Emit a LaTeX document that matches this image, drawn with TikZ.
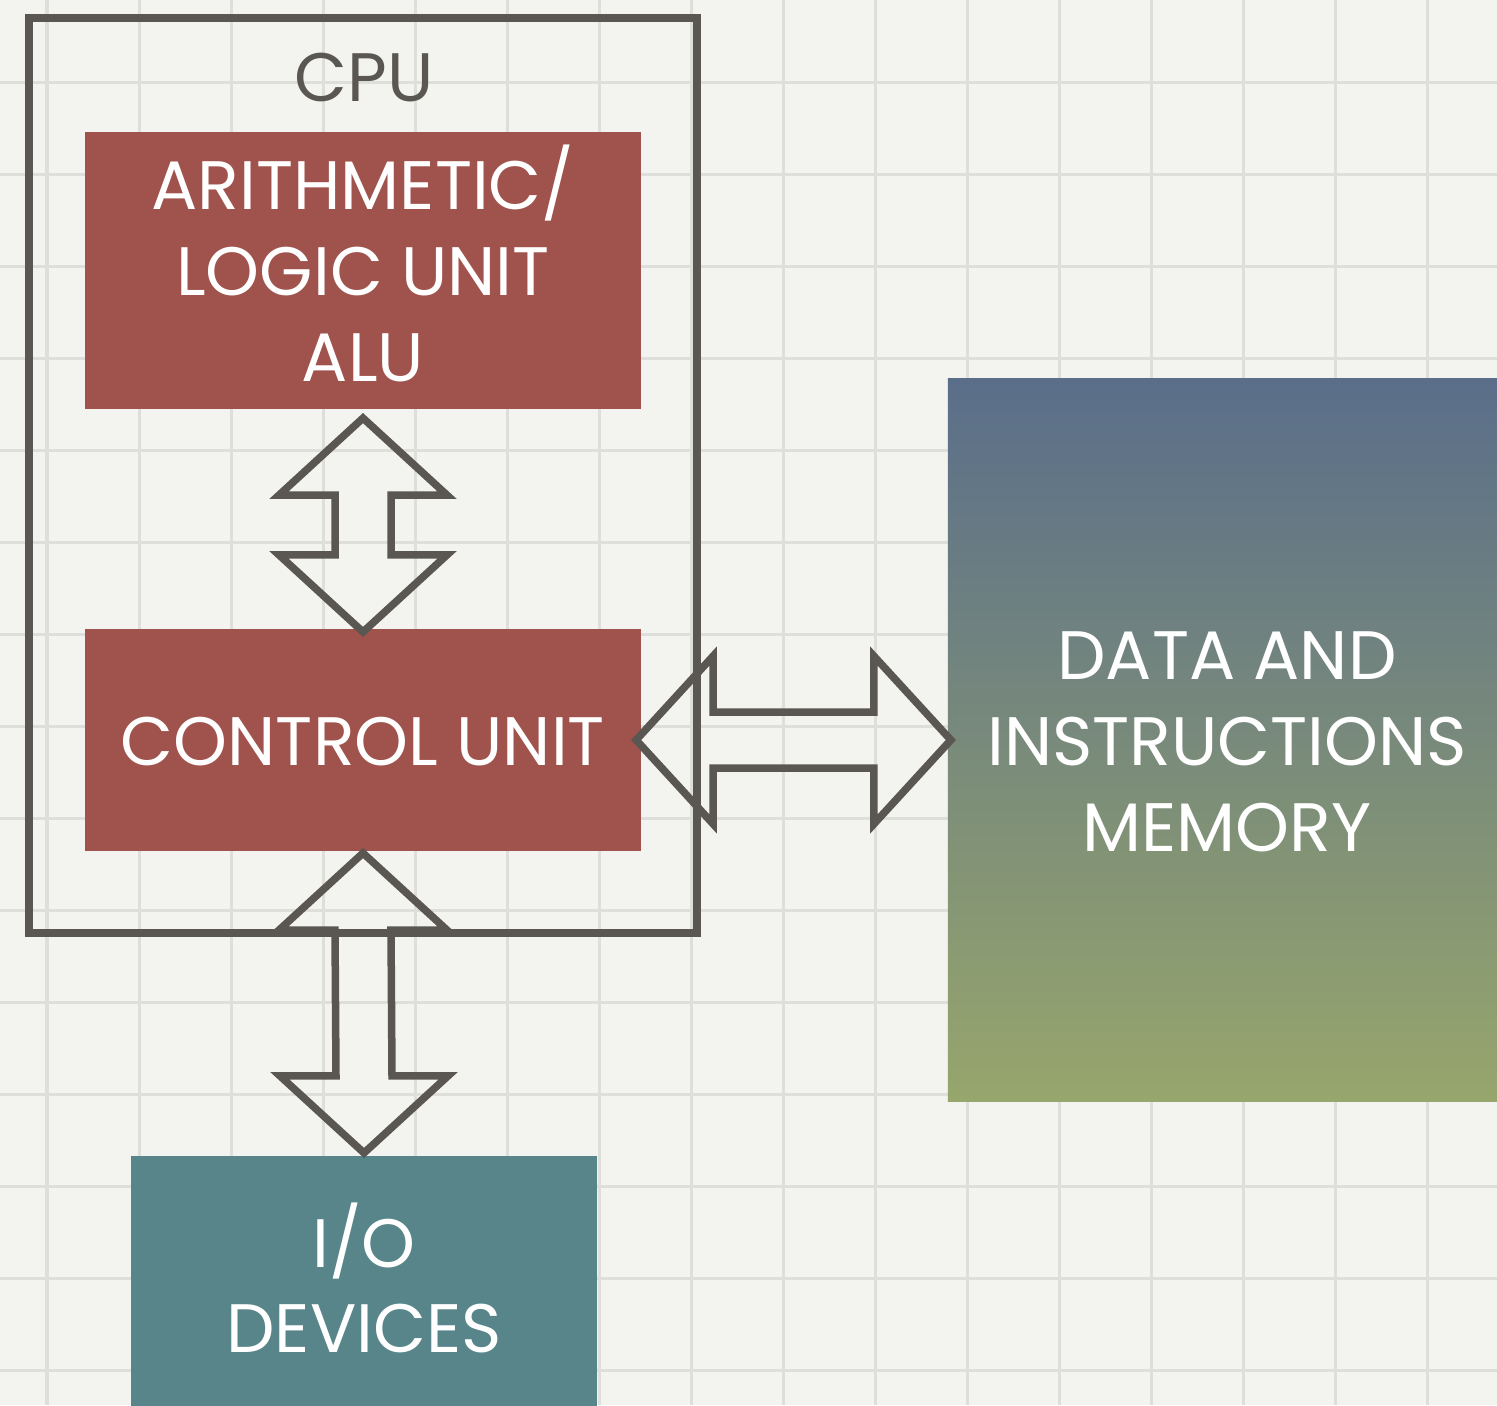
\documentclass[tikz,border=0pt]{standalone}
\usepackage{fontspec}
\setmainfont{Poppins}
\usetikzlibrary{calc}

\definecolor{paper}{HTML}{F3F3F0}
\definecolor{gridline}{HTML}{DEDEDB}
\definecolor{ink}{HTML}{5A5752}
\definecolor{unitred}{HTML}{A0524C}
\definecolor{iobox}{HTML}{57858A}
\definecolor{memtop}{HTML}{5A6E8A}
\definecolor{membot}{HTML}{97A66C}

% outlined double block arrows: tip length 77, head half-width 84, shaft half-width 28
\newcommand\vblock[2]{%
  \draw[blockarrow] (#1) -- ++(84,77) -- ++(-56,0) -- ($(#2)+(28,-77)$) -- ++(56,0)
    -- (#2) -- ++(-84,-77) -- ++(56,0) -- ($(#1)+(-28,77)$) -- ++(-56,0) -- cycle;}
\newcommand\hblock[2]{%
  \draw[blockarrow] (#1) -- ++(77,-84) -- ++(0,56) -- ($(#2)+(-77,-28)$) -- ++(0,-56)
    -- (#2) -- ++(-77,84) -- ++(0,-56) -- ($(#1)+(77,28)$) -- ++(0,56) -- cycle;}

\begin{document}
\begin{tikzpicture}[x=0.01cm,y=-0.01cm,
  labeltext/.style={font=\fontsize{19.5}{24.4}\selectfont, text=white, align=center, inner sep=0pt},
  unitbox/.style={inner sep=0pt, outer sep=0pt},
  blockarrow/.style={draw=ink, line width=0.075cm, line join=miter}]

\useasboundingbox (0,0) rectangle (1497,1405);

% graph paper
\fill[paper] (0,0) rectangle (1497,1405);
\foreach \x in {47,139,...,1440}
  \draw[gridline, line width=0.03cm] (\x,0) -- (\x,1405);
\foreach \y in {82,174,...,1400}
  \draw[gridline, line width=0.03cm] (0,\y) -- (1497,\y);

% CPU frame and its title
\node[draw=ink, line width=0.08cm, inner sep=0pt, outer sep=0pt,
      minimum width=6.68cm, minimum height=9.15cm] (cpu) at (363,475.5) {};
\node[font=\fontsize{19.5}{24.4}\selectfont, text=ink, inner sep=0pt] (cputitle) at (364,78) {CPU};

% unit boxes
\node[unitbox, fill=unitred, minimum width=5.56cm, minimum height=2.77cm] (alu) at (363,270.5) {};
\node[unitbox, fill=unitred, minimum width=5.56cm, minimum height=2.22cm] (cu) at (363,740) {};
\node[unitbox, fill=iobox, minimum width=4.66cm, minimum height=2.64cm] (io) at (364,1288) {};
\node[unitbox, top color=memtop, bottom color=membot, minimum width=5.58cm, minimum height=7.22cm]
  (mem) at (1227,740) {};

% unit labels
\node[labeltext] (alutext) at ($(alu.center)+(0,-7)$) {ARITHMETIC/\\LOGIC UNIT\\ALU};
\node[labeltext] (cutext) at ($(cu.center)+(0,2)$) {CONTROL UNIT};
\node[labeltext] (iotext) at ($(io.center)+(0,-10)$) {I/O\\DEVICES};
\node[labeltext] (memtext) at ($(mem.center)+(0,2)$) {DATA AND\\INSTRUCTIONS\\MEMORY};

% arrow tips
\coordinate (a1) at ($(alu.south)+(0,9)$);
\coordinate (a2) at ($(cu.north)+(0,3)$);
\coordinate (b1) at ($(cu.east)+(-5,0)$);
\coordinate (b2) at ($(mem.west)+(3,0)$);
\coordinate (c1) at ($(cu.south)+(0,2)$);
\coordinate (c2) at ($(io.north)+(0,-3)$);

\vblock{a1}{a2}
\hblock{b1}{b2}
\vblock{c1}{c2}
\end{tikzpicture}
\end{document}
